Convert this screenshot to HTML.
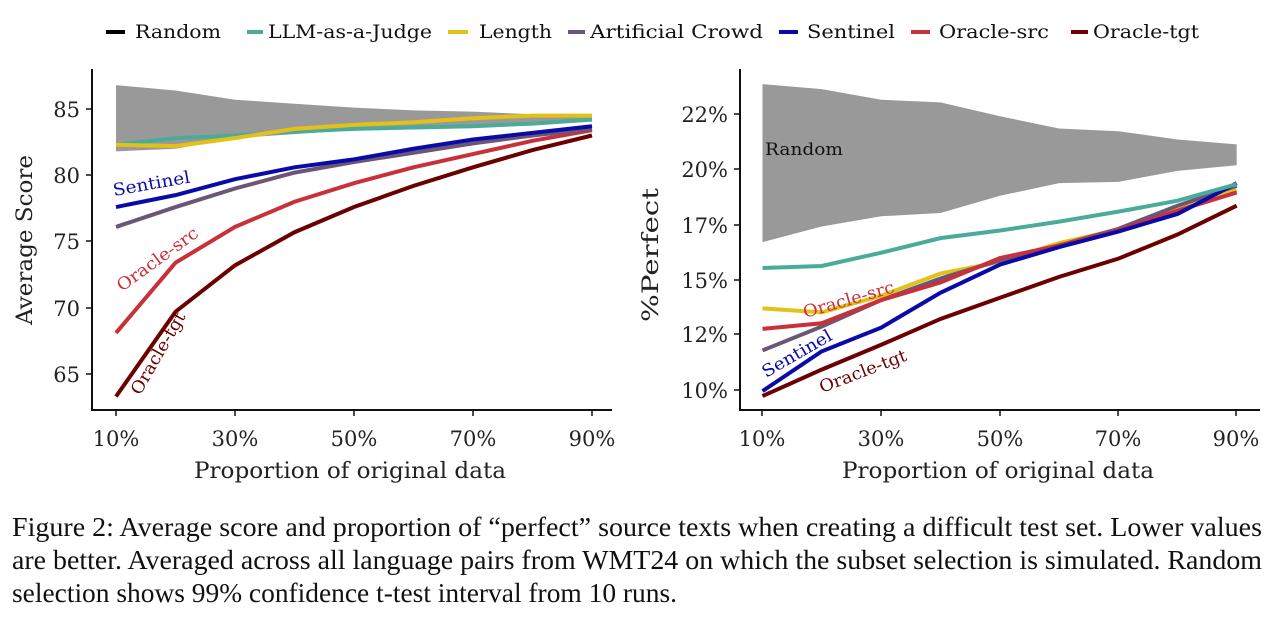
<!DOCTYPE html>
<html><head><meta charset="utf-8"><style>
body{margin:0;background:#fff;width:1280px;height:620px;overflow:hidden}
svg{position:absolute;left:0;top:0}
.dj{font-family:"DejaVu Serif",serif}
.lib{font-family:"Liberation Serif",serif}
</style></head><body>
<svg id="s" width="1280" height="620" class="dj">
<g font-size="19" fill="#111">
<line x1="106" y1="32" x2="125" y2="32" stroke="#000" stroke-width="4"/><text x="135" y="38" textLength="86" lengthAdjust="spacingAndGlyphs">Random</text>
<line x1="247" y1="32" x2="263" y2="32" stroke="#4aab9b" stroke-width="4"/><text x="268" y="38" textLength="164" lengthAdjust="spacingAndGlyphs">LLM-as-a-Judge</text>
<line x1="448" y1="32" x2="468" y2="32" stroke="#e3c119" stroke-width="4"/><text x="479" y="38" textLength="73" lengthAdjust="spacingAndGlyphs">Length</text>
<line x1="568" y1="32" x2="585" y2="32" stroke="#6b5678" stroke-width="4"/><text x="590" y="38" textLength="173" lengthAdjust="spacingAndGlyphs">Artificial Crowd</text>
<line x1="779" y1="32" x2="798" y2="32" stroke="#0a0aa8" stroke-width="4"/><text x="807" y="38" textLength="88" lengthAdjust="spacingAndGlyphs">Sentinel</text>
<line x1="911" y1="32" x2="930" y2="32" stroke="#c8303a" stroke-width="4"/><text x="939" y="38" textLength="110" lengthAdjust="spacingAndGlyphs">Oracle-src</text>
<line x1="1071" y1="32" x2="1088" y2="32" stroke="#6b0000" stroke-width="4"/><text x="1093" y="38" textLength="106" lengthAdjust="spacingAndGlyphs">Oracle-tgt</text>
</g>
<g id="L"></g><g id="R"></g>
<g stroke="#111" stroke-width="2" fill="none">
<path d="M92 69V410H612"/><path d="M740 69V410H1260"/>
</g>
<g stroke="#111" stroke-width="1.5">
<path d="M86 109h6M86 175h6M86 241h6M86 308h6M86 374h6M116 410v6M235 410v6M354 410v6M473 410v6M592 410v6"/>
<path d="M734 114h6M734 169h6M734 225h6M734 280h6M734 334h6M734 390h6M762 410v6M881 410v6M1000 410v6M1118 410v6M1236 410v6"/>
</g>
<g font-size="21" fill="#222" text-anchor="end">
<text x="80" y="117">85</text><text x="80" y="183">80</text><text x="80" y="249">75</text><text x="80" y="316">70</text><text x="80" y="382">65</text>
<text x="728" y="122">22%</text><text x="728" y="177">20%</text><text x="728" y="233">17%</text><text x="728" y="288">15%</text><text x="728" y="342">12%</text><text x="728" y="398">10%</text>
</g>
<g font-size="21" fill="#222" text-anchor="middle">
<text x="116" y="446">10%</text><text x="235" y="446">30%</text><text x="354" y="446">50%</text><text x="473" y="446">70%</text><text x="592" y="446">90%</text>
<text x="762" y="446">10%</text><text x="881" y="446">30%</text><text x="1000" y="446">50%</text><text x="1118" y="446">70%</text><text x="1236" y="446">90%</text>
</g>
<g font-size="22" fill="#222">
<text x="194" y="478" textLength="312" lengthAdjust="spacingAndGlyphs">Proportion of original data</text>
<text x="842" y="478" textLength="312" lengthAdjust="spacingAndGlyphs">Proportion of original data</text>
<text transform="translate(32,325) rotate(-90)" textLength="170" lengthAdjust="spacingAndGlyphs">Average Score</text>
<text transform="translate(658,322) rotate(-90)" textLength="134" lengthAdjust="spacingAndGlyphs">%Perfect</text>
</g>
<g font-size="17">
<text transform="translate(114,196) rotate(-10)" fill="#0a0aa8" textLength="78" lengthAdjust="spacingAndGlyphs">Sentinel</text>
<text transform="translate(122,292) rotate(-36)" fill="#c8303a" textLength="96" lengthAdjust="spacingAndGlyphs">Oracle-src</text>
<text transform="translate(140,396) rotate(-60)" fill="#6b0000" textLength="92" lengthAdjust="spacingAndGlyphs">Oracle-tgt</text>
<text x="765" y="155" fill="#111" textLength="78" lengthAdjust="spacingAndGlyphs">Random</text>
<text transform="translate(805,318) rotate(-16)" fill="#c8303a" textLength="94" lengthAdjust="spacingAndGlyphs">Oracle-src</text>
<text transform="translate(766,378) rotate(-30)" fill="#0a0aa8" textLength="78" lengthAdjust="spacingAndGlyphs">Sentinel</text>
<text transform="translate(822,393) rotate(-21)" fill="#6b0000" textLength="92" lengthAdjust="spacingAndGlyphs">Oracle-tgt</text>
</g>
<g class="lib" font-size="27" fill="#111">
<text x="12" y="536" textLength="1250" lengthAdjust="spacingAndGlyphs">Figure 2: Average score and proportion of “perfect” source texts when creating a difficult test set. Lower values</text>
<text x="12" y="569" textLength="1250" lengthAdjust="spacingAndGlyphs">are better. Averaged across all language pairs from WMT24 on which the subset selection is simulated. Random</text>
<text x="12" y="602" textLength="665" lengthAdjust="spacingAndGlyphs">selection shows 99% confidence t-test interval from 10 runs.</text>
</g>
</svg>
<script>
var NS="http://www.w3.org/2000/svg";
function el(g,t,a){var e=document.createElementNS(NS,t);for(var k in a)e.setAttribute(k,a[k]);g.appendChild(e);}
var L=document.getElementById("L"),R=document.getElementById("R");
function lx(i){return 116+i*59.5}function ly(v){return 109+(85-v)*13.25}
function ry(z){return 60+z/3.02}
var lu=[86.8,86.4,85.7,85.4,85.1,84.9,84.8,84.6,84.4],ll=[81.8,82.0,82.8,83.1,83.4,83.6,83.7,83.9,84.1];
var p=lu.map(function(v,i){return lx(i)+","+ly(v)});for(var i=8;i>=0;i--)p.push(lx(i)+","+ly(ll[i]));
el(L,"polygon",{points:p.join(" "),fill:"#999"});
var LS=[["#6b0000",[63.3,69.7,73.2,75.7,77.6,79.2,80.6,81.9,83.0]],["#c8303a",[68.1,73.4,76.1,78.0,79.4,80.6,81.6,82.6,83.4]],["#6b5678",[76.1,77.6,79.0,80.2,81.0,81.7,82.4,83.0,83.5]],["#0a0aa8",[77.6,78.5,79.7,80.6,81.2,82.0,82.7,83.2,83.7]],["#4aab9b",[82.3,82.8,83.0,83.3,83.5,83.6,83.7,83.9,84.2]],["#e3c119",[82.3,82.2,82.8,83.5,83.8,84.0,84.3,84.5,84.5]]];
LS.forEach(function(s){el(L,"polyline",{points:s[1].map(function(v,i){return lx(i)+","+ly(v)}).join(" "),fill:"none",stroke:s[0],"stroke-width":4});});
var zx=[318,460,603,745,888,1030,1172,1314,1456];function rxx(i){return 630+zx[i]/2.4}
var ru=[73,88,120,128,170,207,215,240,255],rl=[550,503,472,462,410,372,368,335,318];
p=ru.map(function(v,i){return rxx(i)+","+ry(v)});for(i=8;i>=0;i--)p.push(rxx(i)+","+ry(rl[i]));
el(R,"polygon",{points:p.join(" "),fill:"#999"});
var RS=[["#6b0000",[1015,935,860,782,718,655,600,527,440]],["#e3c119",[750,762,712,645,610,553,512,450,393]],["#6b5678",[877,805,725,660,605,560,510,440,380]],["#c8303a",[812,795,725,672,598,560,515,455,400]],["#0a0aa8",[1000,880,808,703,618,565,518,465,372]],["#4aab9b",[628,622,582,538,515,488,458,425,375]]];
RS.forEach(function(s){el(R,"polyline",{points:s[1].map(function(v,i){return rxx(i)+","+ry(v)}).join(" "),fill:"none",stroke:s[0],"stroke-width":4});});
</script>
</body></html>
